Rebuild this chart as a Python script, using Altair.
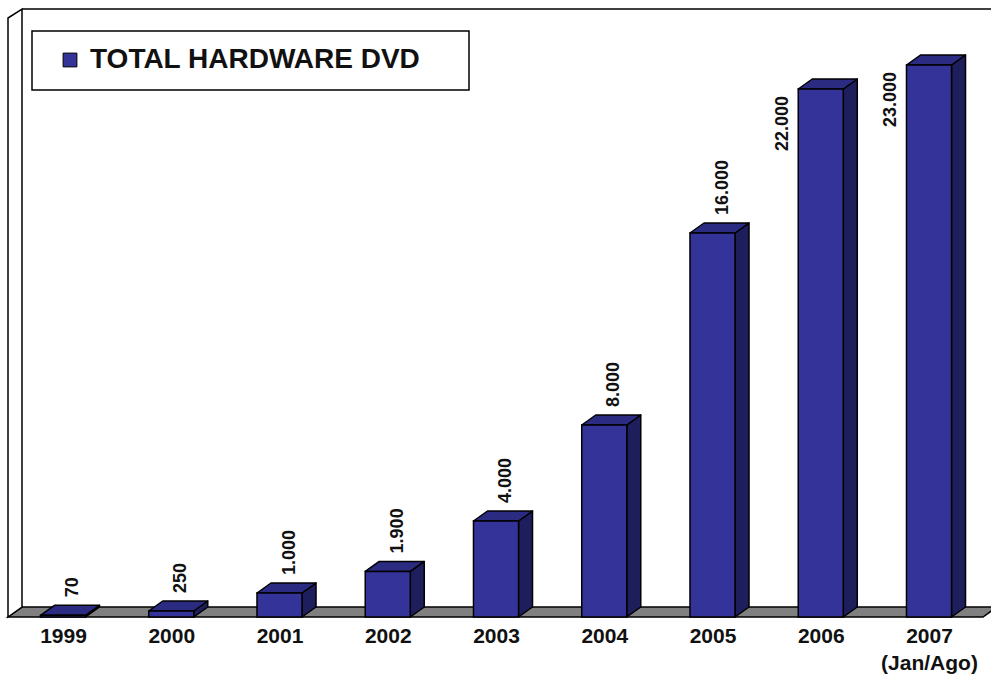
import altair as alt
import pandas as pd

# ---- data ----
years = ["1999", "2000", "2001", "2002", "2003", "2004", "2005", "2006", "2007"]
values = [70, 250, 1000, 1900, 4000, 8000, 16000, 22000, 23000]
labels = ["70", "250", "1.000", "1.900", "4.000", "8.000", "16.000", "22.000", "23.000"]
series = "TOTAL HARDWARE DVD"

# ---- geometry (scale mapping) ----
W, H = 991, 617               # plot area (y=0 at floor front edge)
X0 = -0.582                   # x domain start (bar index units)
PXX = 108.25                  # pixels per bar index
X1 = X0 + W / PXX
YMAX = H / 0.024              # y domain top
PXY = H / YMAX

HALF = 0.208                  # half front width (index units)
DX = 14 / PXX                 # depth offset x
DY = 10 / PXY                 # depth offset y


def px(p):
    return X0 + p / PXX


def py(p):
    return (H - p) / PXY


idx = list(range(len(years)))
bars = pd.DataFrame({"i": idx, "year": years, "value": values, "label": labels,
                     "series": [series] * len(years)})
bars["l"] = bars["i"] - HALF
bars["r"] = bars["i"] + HALF
bars["lx"] = bars["i"] + DX / 2

side_rows, top_rows = [], []
for i, v in zip(idx, values):
    side_rows.append({"year": years[i], "x": i + HALF, "y": 0, "y2": v})
    side_rows.append({"year": years[i], "x": i + HALF + DX, "y": DY, "y2": v + DY})
    top_rows.append({"year": years[i], "y": v, "x": i - HALF, "x2": i + HALF})
    top_rows.append({"year": years[i], "y": v + DY, "x": i - HALF + DX, "x2": i + HALF + DX})
side = pd.DataFrame(side_rows)
top = pd.DataFrame(top_rows)

floor = pd.DataFrame([
    {"y": 0, "x": px(8), "x2": px(983)},
    {"y": DY, "x": px(22), "x2": px(997)},
])
wall = pd.DataFrame([
    {"x": px(8), "y": 0, "y2": py(18)},
    {"x": px(22), "y": DY, "y2": py(9)},
])

xs = alt.Scale(domain=[X0, X1], nice=False, zero=False)
ys = alt.Scale(domain=[0, YMAX], nice=False, zero=False)
FONT = "Liberation Sans"

year_arr = "[" + ",".join(
    ("['2007','(Jan/Ago)']" if y == "2007" else "'" + y + "'") for y in years) + "]"

floor_layer = alt.Chart(floor).mark_area(
    orient="horizontal", fill="#808080", stroke="black", strokeWidth=1.5
).encode(
    y=alt.Y("y:Q", scale=ys, axis=None),
    x=alt.X("x:Q", scale=xs, axis=alt.Axis(
        values=idx, labelExpr=year_arr + "[datum.value]", domain=False, ticks=False,
        grid=False, title=None, labelFont=FONT, labelFontSize=21, labelFontWeight="bold",
        labelColor="#111111", labelPadding=8, labelLineHeight=27, labelFlush=False,
        labelOverlap=False)),
    x2="x2:Q",
)

wall_layer = alt.Chart(wall).mark_area(
    fill="white", stroke="black", strokeWidth=1.5
).encode(x=alt.X("x:Q", scale=xs), y=alt.Y("y:Q", scale=ys), y2="y2:Q")

back_top = alt.Chart(pd.DataFrame({"a": [0]})).mark_rule(
    color="black", strokeWidth=1.5
).encode(x=alt.value(22), x2=alt.value(991), y=alt.value(9))

side_layer = alt.Chart(side).mark_area(
    fill="#1e1e5c", stroke="black", strokeWidth=1.5, strokeJoin="round"
).encode(x=alt.X("x:Q", scale=xs), y=alt.Y("y:Q", scale=ys), y2="y2:Q", detail="year:N")

top_layer = alt.Chart(top).mark_area(
    orient="horizontal", fill="#2b2b82", stroke="black", strokeWidth=1.5, strokeJoin="round"
).encode(y=alt.Y("y:Q", scale=ys), x=alt.X("x:Q", scale=xs), x2="x2:Q", detail="year:N")

front_layer = alt.Chart(bars).mark_rect(
    stroke="black", strokeWidth=1.5
).encode(
    x=alt.X("l:Q", scale=xs), x2="r:Q",
    y=alt.Y("value:Q", scale=ys), y2=alt.datum(0),
    color=alt.Color("series:N", scale=alt.Scale(range=["#333399"]), legend=alt.Legend(
        title=None, orient="none", legendX=56, legendY=46, symbolType="square",
        symbolSize=190, symbolStrokeColor="black", symbolStrokeWidth=1,
        symbolFillColor="#333399", labelFont=FONT, labelFontSize=28,
        labelFontWeight="bold", labelColor="#111111", labelOffset=6, padding=0,
        labelLimit=600)),
)

legend_box = alt.Chart(pd.DataFrame({"a": [0]})).mark_rect(
    fill="white", stroke="black", strokeWidth=1.5
).encode(x=alt.value(32), x2=alt.value(469), y=alt.value(31), y2=alt.value(90))

lab_above = alt.Chart(bars).transform_filter("datum.value < 20000").mark_text(
    angle=270, align="left", baseline="middle", dx=18, dy=3, font=FONT,
    fontSize=18, fontWeight="bold", color="#111111"
).encode(x=alt.X("lx:Q", scale=xs), y=alt.Y("value:Q", scale=ys), text="label:N")

lab_left = alt.Chart(bars).transform_filter("datum.value >= 20000").mark_text(
    angle=270, align="right", baseline="middle", dx=-7, dy=-15, font=FONT,
    fontSize=18, fontWeight="bold", color="#111111"
).encode(x=alt.X("l:Q", scale=xs), y=alt.Y("value:Q", scale=ys), text="label:N")

chart = alt.layer(
    floor_layer, back_top, wall_layer, legend_box, side_layer, top_layer, front_layer,
    lab_above, lab_left
).properties(
    width=W, height=H,
    autosize=alt.AutoSizeParams(type="none"),
    padding={"left": 0, "top": 0, "right": 0, "bottom": 679 - H},
    background="white",
).configure_view(stroke=None)

chart.save("out.html", embed_options={"renderer": "svg", "actions": False})
